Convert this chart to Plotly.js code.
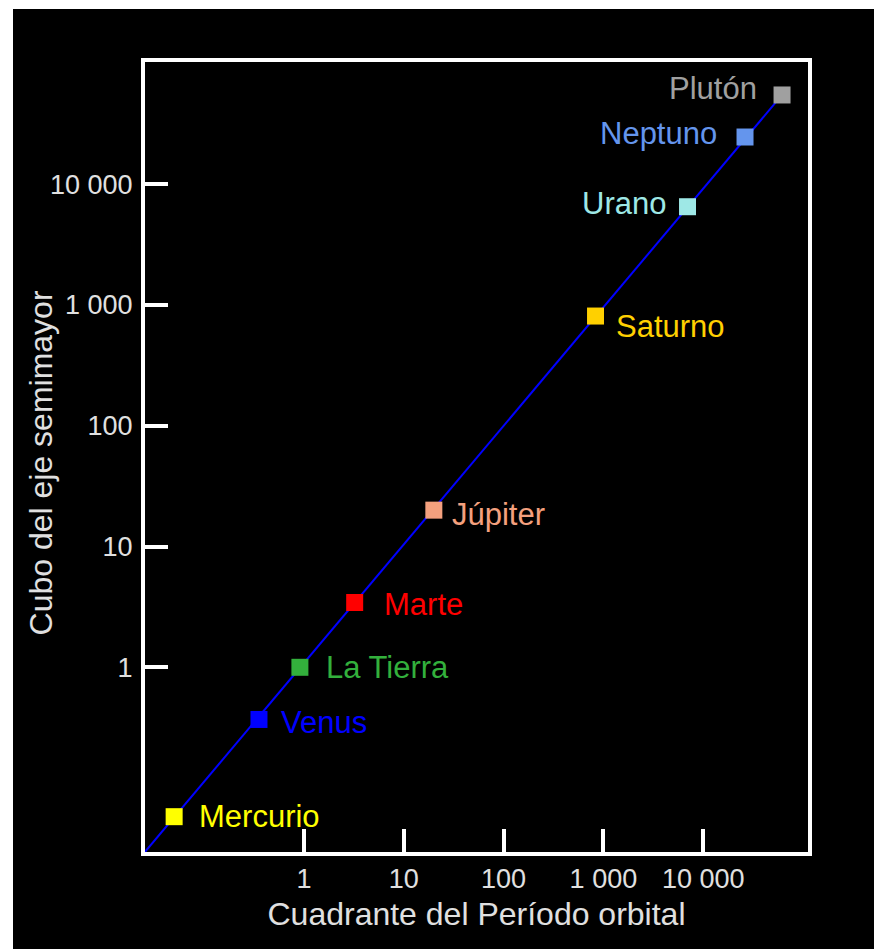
<!DOCTYPE html>
<html>
<head>
<meta charset="utf-8">
<script src="https://cdn.plot.ly/plotly-3.0.1.min.js"></script>
<style>
  html, body { margin: 0; padding: 0; background: #ffffff; width: 874px; height: 949px; overflow: hidden; }
  #chart { position: absolute; left: 13px; top: 9px; width: 861px; height: 940px; }
</style>
</head>
<body>
<div id="chart"></div>
<script>
// Planet names (Spanish), period squared (years^2), semi-major axis cubed (AU^3)
const planets = ["Mercurio", "Venus", "La Tierra", "Marte", "Júpiter", "Saturno", "Urano", "Neptuno", "Plutón"];
const periodSquared = [0.05, 0.354, 0.91, 3.22, 20, 834, 6966, 26240, 61640];
const axisCubed = [0.058, 0.37, 1, 3.44, 20, 809, 6500, 24550, 54700];
const colors = ["#ffff00", "#0000ff", "#33b03c", "#ff0000", "#f4a07e", "#ffd000", "#9ee8e6", "#6495ed", "#a0a0a0"];
const labelSide = ["right", "right", "right", "right", "right", "right", "left", "left", "left"];
const labelShiftX = [23, 20, 24, 27, 16, 18, -20, -26, -23];
const labelShiftY = [0, -3, 0, -2, -4, -10, 3, 4, 6];

// Fitted line T^2 = a^3 from the lower-left corner to Pluto
const lineX = [0.0255, 61640];
const lineY = [0.0296, 54700];

const tickVals = [1, 10, 100, 1000, 10000];
const tickText = ["1", "10", "100", "1 000", "10 000"];

const xTitle = "Cuadrante del Período orbital";
const yTitle = "Cubo del eje semimayor";

const FONT = "Liberation Sans, Arial, sans-serif";
const GREY = "#e0e0e0";

const traces = [
  {
    x: lineX, y: lineY, mode: "lines", type: "scatter",
    line: { color: "#0000ff", width: 2 }, hoverinfo: "skip", showlegend: false
  },
  {
    x: periodSquared, y: axisCubed, mode: "markers", type: "scatter",
    marker: { symbol: "square", size: 17, color: colors, line: { width: 0 } },
    text: planets, showlegend: false
  }
];

const annotations = planets.map((p, i) => ({
  x: Math.log10(periodSquared[i]), y: Math.log10(axisCubed[i]),
  xref: "x", yref: "y", text: p, showarrow: false,
  xanchor: labelSide[i] === "right" ? "left" : "right",
  yanchor: "middle",
  xshift: labelShiftX[i], yshift: labelShiftY[i],
  font: { family: FONT, size: 31, color: colors[i] }
}));

annotations.push({
  x: 0, y: 0.4918, xref: "paper", yref: "paper", xanchor: "center", yanchor: "middle",
  xshift: -104, textangle: -90, showarrow: false, text: yTitle,
  font: { family: FONT, size: 32, color: GREY }
});

const axisCommon = {
  type: "log",
  showgrid: false, zeroline: false,
  showline: true, linecolor: "#ffffff", linewidth: 4, mirror: true,
  ticks: "inside", ticklen: 23, tickwidth: 4, tickcolor: "#ffffff",
  tickmode: "array", tickvals: tickVals, ticktext: tickText,
  tickfont: { family: FONT, size: 27, color: GREY }
};

const layout = {
  width: 861, height: 940,
  paper_bgcolor: "#000000", plot_bgcolor: "#000000",
  margin: { l: 132, r: 66, t: 53, b: 97, pad: 0 },
  showlegend: false,
  xaxis: Object.assign({}, axisCommon, {
    range: [-1.593, 5.05], automargin: false,
    title: { text: xTitle, font: { family: FONT, size: 32, color: GREY }, standoff: 10 }
  }),
  yaxis: Object.assign({}, axisCommon, {
    range: [-1.529, 5.011], automargin: false, ticklabelstandoff: 3
  }),
  annotations: annotations
};

Plotly.newPlot("chart", traces, layout, { displayModeBar: false, staticPlot: true });
</script>
</body>
</html>
